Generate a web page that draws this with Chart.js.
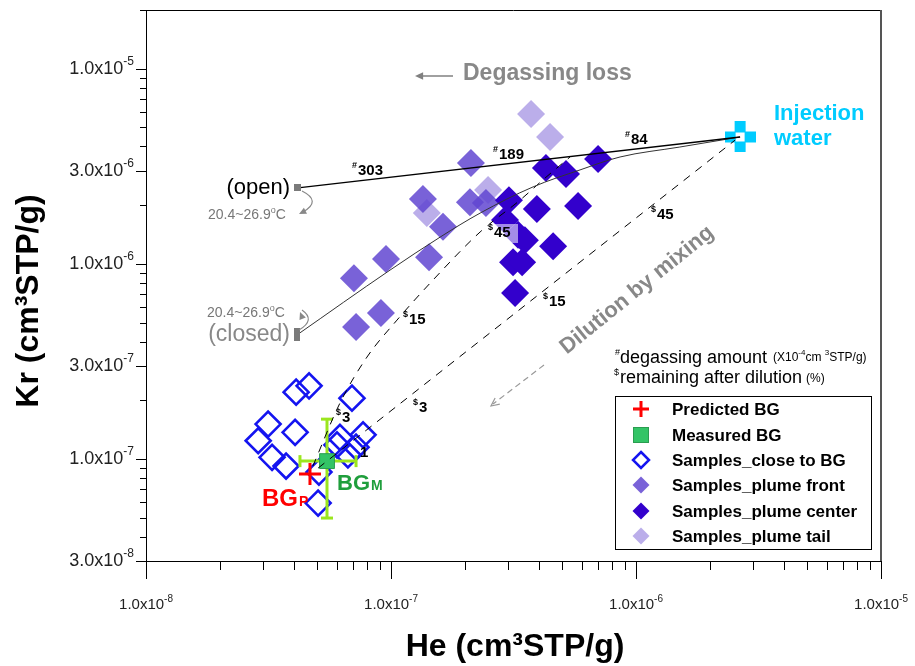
<!DOCTYPE html>
<html>
<head>
<meta charset="utf-8">
<title>He vs Kr</title>
<script src="https://cdn.jsdelivr.net/npm/chart.js@4.4.1/dist/chart.umd.min.js"></script>
<style>
  html, body { margin: 0; padding: 0; background: #fff; }
  #wrap { width: 915px; height: 666px; }
</style>
</head>
<body>
<div id="wrap"><canvas id="c" width="915" height="666"></canvas></div>
<script>
// 값 (He, Kr : cm3STP/g)
const closeHe = [4.10e-8, 4.63e-8, 6.93e-8, 3.15e-8, 4.06e-8, 2.87e-8, 3.27e-8, 3.73e-8, 7.69e-8, 6.19e-8, 6.02e-8, 6.67e-8, 7.20e-8, 5.08e-8, 5.04e-8];
const closeKr = [2.20e-7, 2.37e-7, 2.05e-7, 1.51e-7, 1.37e-7, 1.24e-7, 1.02e-7, 9.20e-8, 1.33e-7, 1.29e-7, 1.18e-7, 1.05e-7, 1.15e-7, 8.57e-8, 5.94e-8];

const frontHe = [1.35e-7, 2.12e-7, 2.10e-7, 2.44e-7, 1.63e-7, 1.43e-7, 9.54e-8, 7.06e-8, 9.10e-8, 7.20e-8];
const frontKr = [2.15e-6, 3.29e-6, 2.07e-6, 2.05e-6, 1.55e-6, 1.08e-6, 1.06e-6, 8.45e-7, 5.60e-7, 4.74e-7];

const centerHe = [7.00e-7, 4.29e-7, 5.18e-7, 3.03e-7, 3.94e-7, 5.80e-7, 2.92e-7, 3.30e-7, 3.52e-7, 4.59e-7, 3.15e-7, 3.43e-7, 3.21e-7];
const centerKr = [3.45e-6, 3.10e-6, 2.89e-6, 2.12e-6, 1.91e-6, 1.98e-6, 1.68e-6, 1.41e-6, 1.32e-6, 1.23e-6, 1.02e-6, 1.02e-6, 7.08e-7];

const tailHe = [3.73e-7, 4.46e-7, 1.40e-7, 2.49e-7];
const tailKr = [5.86e-6, 4.47e-6, 1.82e-6, 2.39e-6];

const predHe = [4.67e-8];
const predKr = [8.37e-8];
const measHe = [5.48e-8];
const measKr = [9.75e-8];
const measHeRange = [4.25e-8, 7.20e-8];
const measKrRange = [4.98e-8, 1.60e-7];

const injHe = [2.66e-6];
const injKr = [4.47e-6];

// 탈기 경로 (open / closed)
const openHe = [4.17e-8, 2.66e-6];
const openKr = [2.45e-6, 4.47e-6];
const closedHe = [4.13e-8, 9.91e-8, 1.585e-7, 2.31e-7, 3.80e-7, 5.91e-7, 8.61e-7, 1.51e-6, 2.66e-6];
const closedKr = [4.32e-7, 9.29e-7, 1.37e-6, 1.82e-6, 2.48e-6, 3.03e-6, 3.53e-6, 3.97e-6, 4.47e-6];

// 희석 혼합선
const mixAHe = [4.80e-8, 6.19e-8, 7.98e-8, 1.058e-7, 1.484e-7, 2.31e-7, 3.36e-7, 4.25e-7, 5.38e-7];
const mixAKr = [9.20e-8, 1.935e-7, 3.33e-7, 5.15e-7, 8.26e-7, 1.456e-6, 2.12e-6, 2.75e-6, 3.53e-6];
const mixBHe = [5.04e-8, 2.54e-6];
const mixBKr = [8.98e-8, 4.31e-6];

// 축 눈금
const xTickLabels = [1e-8, 1e-7, 1e-6, 1e-5];
const yTickLabels = [3e-8, 1e-7, 3e-7, 1e-6, 3e-6, 1e-5];
const decades = [-8, -7, -6, -5];

const FONT = '"Liberation Sans", Arial, Helvetica, sans-serif';
const pts = (xs, ys) => xs.map((x, i) => ({ x: x, y: ys[i] }));

const COL = {
  close: '#1414f0',
  front: 'rgba(98,70,209,0.85)',
  center: '#3300cc',
  tail: 'rgba(142,120,220,0.6)',
  pred: '#ff0000',
  meas: '#33c466',
  err: '#9be61e',
  inj: '#00ccff',
  gray: '#888888'
};

function iconCanvas(w, h, draw) {
  const c = document.createElement('canvas');
  c.width = w; c.height = h;
  draw(c.getContext('2d'));
  return c;
}
const injIcon = iconCanvas(31, 31, g => {
  g.fillStyle = COL.inj;
  g.fillRect(10, 0, 11, 31);
  g.fillRect(0, 10, 31, 11);
  g.fillStyle = '#fff';
  g.fillRect(11, 11, 9, 9);
});
const openIcon = iconCanvas(7, 7, g => { g.fillStyle = '#7a7a7a'; g.fillRect(0, 0, 7, 7); });
const closedIcon = iconCanvas(6, 13, g => { g.fillStyle = '#7a7a7a'; g.fillRect(0, 0, 6, 13); });

function tickText(ctx, v, x, y, align, size) {
  const exp = Math.floor(Math.log10(v) + 1e-9);
  const base = (v / Math.pow(10, exp)).toFixed(1) + 'x10';
  const sup = String(exp);
  const ss = Math.round(size * 0.66);
  ctx.font = size + 'px ' + FONT;
  const wb = ctx.measureText(base).width;
  ctx.font = ss + 'px ' + FONT;
  const ws = ctx.measureText(sup).width;
  const x0 = align === 'right' ? x - wb - ws : x - (wb + ws) / 2;
  ctx.textAlign = 'left';
  ctx.textBaseline = 'middle';
  ctx.fillStyle = '#222';
  ctx.font = size + 'px ' + FONT;
  ctx.fillText(base, x0, y);
  ctx.font = ss + 'px ' + FONT;
  ctx.fillText(sup, x0 + wb, y - size * 0.4);
}

function tag(ctx, sym, num, x, y) {
  ctx.textAlign = 'left';
  ctx.textBaseline = 'middle';
  ctx.fillStyle = '#000';
  ctx.font = 'bold 9px ' + FONT;
  ctx.fillText(sym, x, y - 5);
  const w = ctx.measureText(sym).width;
  ctx.font = 'bold 15px ' + FONT;
  ctx.fillText(num, x + w + 1, y);
}

function arrowHead(ctx, x, y, ang, len, filled) {
  ctx.beginPath();
  ctx.moveTo(x + len * Math.cos(ang + 2.7), y + len * Math.sin(ang + 2.7));
  ctx.lineTo(x, y);
  ctx.lineTo(x + len * Math.cos(ang - 2.7), y + len * Math.sin(ang - 2.7));
  if (filled) { ctx.closePath(); ctx.fill(); } else ctx.stroke();
}

function diamond(ctx, x, y, r, fill, stroke, lw) {
  ctx.beginPath();
  ctx.moveTo(x, y - r); ctx.lineTo(x + r, y); ctx.lineTo(x, y + r); ctx.lineTo(x - r, y);
  ctx.closePath();
  if (fill) { ctx.fillStyle = fill; ctx.fill(); }
  if (stroke) { ctx.strokeStyle = stroke; ctx.lineWidth = lw; ctx.stroke(); }
}

const overlay = {
  id: 'overlay',
  afterDraw(chart) {
    const ctx = chart.ctx;
    const xs = chart.scales.x, ys = chart.scales.y;
    const a = chart.chartArea;
    ctx.save();

    // 프레임
    ctx.strokeStyle = '#000'; ctx.lineWidth = 1;
    ctx.beginPath(); ctx.moveTo(a.left, a.top + 0.5); ctx.lineTo(a.right, a.top + 0.5); ctx.stroke();
    ctx.strokeStyle = '#555'; ctx.lineWidth = 2;
    ctx.beginPath(); ctx.moveTo(a.right, a.top); ctx.lineTo(a.right, a.bottom); ctx.stroke();

    // 눈금
    ctx.strokeStyle = '#000'; ctx.lineWidth = 1;
    decades.forEach(e => {
      for (let m = 1; m <= 9; m++) {
        const v = m * Math.pow(10, e);
        if (v >= xs.min * 0.999 && v <= xs.max * 1.001) {
          const px = Math.round(xs.getPixelForValue(v)) + 0.5;
          ctx.beginPath(); ctx.moveTo(px, a.bottom); ctx.lineTo(px, a.bottom + (m === 1 ? 18 : 9)); ctx.stroke();
        }
        if (v >= ys.min * 0.999 && v <= ys.max * 1.001) {
          const py = Math.round(ys.getPixelForValue(v)) + 0.5;
          const big = yTickLabels.some(t => Math.abs(t - v) / v < 1e-6);
          ctx.beginPath(); ctx.moveTo(a.left, py); ctx.lineTo(a.left - (big ? 10 : 6), py); ctx.stroke();
        }
      }
    });
    xTickLabels.forEach(v => tickText(ctx, v, xs.getPixelForValue(v), 605, 'center', 15));
    yTickLabels.forEach(v => tickText(ctx, v, 134, ys.getPixelForValue(v), 'right', 18));

    // 축 제목
    ctx.fillStyle = '#000';
    ctx.font = 'bold 32px ' + FONT;
    ctx.textAlign = 'center'; ctx.textBaseline = 'middle';
    ctx.fillText('He (cm\u00B3STP/g)', 515, 647);
    ctx.save();
    ctx.translate(29, 301); ctx.rotate(-Math.PI / 2);
    ctx.fillText('Kr (cm\u00B3STP/g)', 0, 0);
    ctx.restore();

    // 라벨 (#탈기량, $잔존율)
    [['#', '303', 352, 171], ['#', '189', 493, 155], ['#', '84', 625, 140],
     ['$', '15', 403, 320], ['$', '3', 336, 418],
     ['$', '45', 651, 215], ['$', '15', 543, 302], ['$', '3', 413, 408]].forEach(t => tag(ctx, t[0], t[1], t[2], t[3]));
    ctx.fillStyle = 'rgba(255,255,255,0.55)';
    ctx.fillRect(486, 224, 32, 19);
    tag(ctx, '$', '45', 488, 233);
    ctx.font = 'bold 15px ' + FONT; ctx.fillStyle = '#000';
    ctx.fillText('1', 360, 453);

    // open / closed
    ctx.textBaseline = 'middle';
    ctx.textAlign = 'right';
    ctx.fillStyle = '#000'; ctx.font = '22px ' + FONT;
    ctx.fillText('(open)', 290, 188);
    ctx.fillStyle = '#888'; ctx.font = '23px ' + FONT;
    ctx.fillText('(closed)', 290, 335);
    ctx.fillStyle = '#777';
    ctx.textAlign = 'left';
    const tempText = (x, y) => {
      ctx.font = '14px ' + FONT; ctx.fillText('20.4~26.9', x, y);
      let w = ctx.measureText('20.4~26.9').width;
      ctx.font = '9px ' + FONT; ctx.fillText('o', x + w, y - 4);
      w += ctx.measureText('o').width;
      ctx.font = '14px ' + FONT; ctx.fillText('C', x + w, y);
    };
    tempText(208, 215);
    tempText(207, 313);
    ctx.strokeStyle = '#888'; ctx.fillStyle = '#888'; ctx.lineWidth = 1.2;
    ctx.beginPath(); ctx.moveTo(302, 191); ctx.quadraticCurveTo(322, 201, 303, 212); ctx.stroke();
    arrowHead(ctx, 299, 214, Math.PI * 0.85, 8, true);
    ctx.beginPath(); ctx.moveTo(299, 330); ctx.quadraticCurveTo(316, 320, 302, 310); ctx.stroke();
    arrowHead(ctx, 300, 312, -Math.PI * 0.62, 8, true);

    // Degassing loss
    ctx.fillStyle = COL.gray; ctx.font = 'bold 23px ' + FONT;
    ctx.textAlign = 'left';
    ctx.fillText('Degassing loss', 463, 74);
    ctx.strokeStyle = '#808080'; ctx.lineWidth = 1.5;
    ctx.beginPath(); ctx.moveTo(453, 76); ctx.lineTo(420, 76); ctx.stroke();
    ctx.fillStyle = '#808080';
    arrowHead(ctx, 415, 76, Math.PI, 9, true);

    // Dilution by mixing
    ctx.save();
    ctx.translate(637, 290); ctx.rotate(-39 * Math.PI / 180);
    ctx.fillStyle = COL.gray; ctx.font = 'bold 22px ' + FONT; ctx.textAlign = 'center';
    ctx.fillText('Dilution by mixing', 0, 0);
    ctx.restore();
    ctx.strokeStyle = '#999'; ctx.lineWidth = 1.2; ctx.setLineDash([6, 4]);
    ctx.beginPath(); ctx.moveTo(544, 365); ctx.lineTo(493, 404); ctx.stroke();
    ctx.setLineDash([]);
    arrowHead(ctx, 491, 406, Math.atan2(39, -51), 9, false);

    // Injection water
    ctx.fillStyle = COL.inj; ctx.font = 'bold 22px ' + FONT; ctx.textAlign = 'left';
    ctx.fillText('Injection', 774, 114);
    ctx.fillText('water', 774, 139);

    // BG 라벨
    ctx.textBaseline = 'alphabetic';
    ctx.fillStyle = '#ff0000'; ctx.font = 'bold 24px ' + FONT;
    ctx.fillText('BG', 262, 506);
    let wbg = ctx.measureText('BG').width;
    ctx.font = 'bold 14px ' + FONT; ctx.fillText('P', 262 + wbg + 1, 506);
    ctx.fillStyle = '#1f9e3c'; ctx.font = 'bold 22px ' + FONT;
    ctx.fillText('BG', 337, 490);
    wbg = ctx.measureText('BG').width;
    ctx.font = 'bold 14px ' + FONT; ctx.fillText('M', 337 + wbg + 1, 490);

    // 범례 설명
    ctx.textBaseline = 'middle'; ctx.fillStyle = '#000';
    ctx.font = '9px ' + FONT; ctx.fillText('#', 615, 353);
    ctx.font = '18px ' + FONT; ctx.fillText('degassing amount', 620, 358);
    ctx.font = '12px ' + FONT; ctx.fillText('(X10', 773, 358);
    let wx = ctx.measureText('(X10').width;
    ctx.font = '8px ' + FONT; ctx.fillText('-4', 773 + wx, 353);
    wx += ctx.measureText('-4').width;
    ctx.font = '12px ' + FONT; ctx.fillText('cm ', 773 + wx, 358);
    wx += ctx.measureText('cm ').width;
    ctx.font = '8px ' + FONT; ctx.fillText('3', 773 + wx, 353);
    wx += ctx.measureText('3').width;
    ctx.font = '12px ' + FONT; ctx.fillText('STP/g)', 773 + wx, 358);
    ctx.font = '9px ' + FONT; ctx.fillText('$', 614, 373);
    ctx.font = '18px ' + FONT; ctx.fillText('remaining after dilution', 620, 378);
    ctx.font = '12px ' + FONT; ctx.fillText('(%)', 806, 379);

    // 범례
    ctx.strokeStyle = '#000'; ctx.lineWidth = 1;
    ctx.strokeRect(615.5, 396.5, 256, 153);
    const lx = 641, tx = 672;
    const rows = [409, 435, 460, 485, 511, 536];
    ctx.strokeStyle = COL.pred; ctx.lineWidth = 3;
    ctx.beginPath(); ctx.moveTo(lx - 8, rows[0]); ctx.lineTo(lx + 8, rows[0]);
    ctx.moveTo(lx, rows[0] - 8); ctx.lineTo(lx, rows[0] + 8); ctx.stroke();
    ctx.fillStyle = COL.meas; ctx.fillRect(lx - 8, rows[1] - 8, 16, 16);
    ctx.strokeStyle = '#2a9d50'; ctx.lineWidth = 1; ctx.strokeRect(lx - 7.5, rows[1] - 7.5, 15, 15);
    diamond(ctx, lx, rows[2], 8, null, COL.close, 2.5);
    diamond(ctx, lx, rows[3], 8.5, COL.front);
    diamond(ctx, lx, rows[4], 8.5, COL.center);
    diamond(ctx, lx, rows[5], 8.5, COL.tail);
    const names = ['Predicted BG', 'Measured BG', 'Samples_close to BG', 'Samples_plume front', 'Samples_plume center', 'Samples_plume tail'];
    ctx.fillStyle = '#000'; ctx.font = 'bold 17px ' + FONT; ctx.textAlign = 'left';
    names.forEach((n, i) => ctx.fillText(n, tx, rows[i] + 1));

    ctx.restore();
  }
};

const lineBase = { showLine: true, pointRadius: 0, fill: false };

new Chart(document.getElementById('c'), {
  type: 'scatter',
  data: {
    datasets: [
      Object.assign({ label: 'open', data: pts(openHe, openKr), borderColor: '#000', borderWidth: 1.4, order: 1 }, lineBase),
      Object.assign({ label: 'closed', data: pts(closedHe, closedKr), borderColor: '#333', borderWidth: 1, cubicInterpolationMode: 'monotone', order: 1 }, lineBase),
      Object.assign({ label: 'mixA', data: pts(mixAHe, mixAKr), borderColor: '#000', borderWidth: 1, borderDash: [8, 7], cubicInterpolationMode: 'monotone', order: 1 }, lineBase),
      Object.assign({ label: 'mixB', data: pts(mixBHe, mixBKr), borderColor: '#000', borderWidth: 1, borderDash: [8, 7], order: 1 }, lineBase),
      { label: 'ends', data: [{ x: openHe[0], y: openKr[0] }, { x: closedHe[0], y: closedKr[0] }], pointStyle: [openIcon, closedIcon], pointRadius: 4, order: 0 },
      { label: 'Injection water', data: pts(injHe, injKr), pointStyle: injIcon, pointRadius: 15, order: 2 },
      { label: 'Predicted BG', data: pts(predHe, predKr), pointStyle: 'cross', pointRadius: 11, borderWidth: 3, borderColor: COL.pred, backgroundColor: COL.pred, order: 3 },
      { label: 'Measured BG', data: pts(measHe, measKr), pointStyle: 'rect', pointRadius: 10.5, borderWidth: 1, borderColor: '#2a9d50', backgroundColor: COL.meas, order: 4 },
      { label: 'errY', data: [{ x: measHe[0], y: measKrRange[0] }, { x: measHe[0], y: measKrRange[1] }], showLine: true, borderColor: COL.err, borderWidth: 3, pointStyle: 'line', pointRadius: 6, pointBorderWidth: 3, pointBorderColor: COL.err, order: 5 },
      { label: 'errX', data: [{ x: measHeRange[0], y: measKr[0] }, { x: measHeRange[1], y: measKr[0] }], showLine: true, borderColor: COL.err, borderWidth: 3, pointStyle: 'line', rotation: 90, pointRadius: 6, pointBorderWidth: 3, pointBorderColor: COL.err, order: 5 },
      { label: 'Samples_close to BG', data: pts(closeHe, closeKr), pointStyle: 'rectRot', pointRadius: 12.5, borderWidth: 2.6, borderColor: COL.close, backgroundColor: 'rgba(0,0,0,0)', order: 6 },
      { label: 'Samples_plume center', data: pts(centerHe, centerKr), pointStyle: 'rectRot', pointRadius: 14, borderWidth: 0, backgroundColor: COL.center, order: 7 },
      { label: 'Samples_plume front', data: pts(frontHe, frontKr), pointStyle: 'rectRot', pointRadius: 14, borderWidth: 0, backgroundColor: COL.front, order: 8 },
      { label: 'Samples_plume tail', data: pts(tailHe, tailKr), pointStyle: 'rectRot', pointRadius: 14, borderWidth: 0, backgroundColor: COL.tail, order: 9 }
    ]
  },
  options: {
    responsive: false,
    animation: false,
    events: [],
    layout: { autoPadding: false, padding: { left: 0, top: 10, right: 34, bottom: 0 } },
    plugins: { legend: { display: false }, tooltip: { enabled: false } },
    scales: {
      x: {
        type: 'logarithmic', min: 1e-8, max: 1e-5, bounds: 'data',
        grid: { display: false }, ticks: { display: false },
        border: { display: true, color: '#000', width: 1 },
        afterFit(s) { s.height = 105; }
      },
      y: {
        type: 'logarithmic', min: 3e-8, max: 2e-5, bounds: 'data',
        grid: { display: false }, ticks: { display: false },
        border: { display: true, color: '#000', width: 1 },
        afterFit(s) { s.width = 146; }
      }
    }
  },
  plugins: [overlay]
});
</script>
</body>
</html>
